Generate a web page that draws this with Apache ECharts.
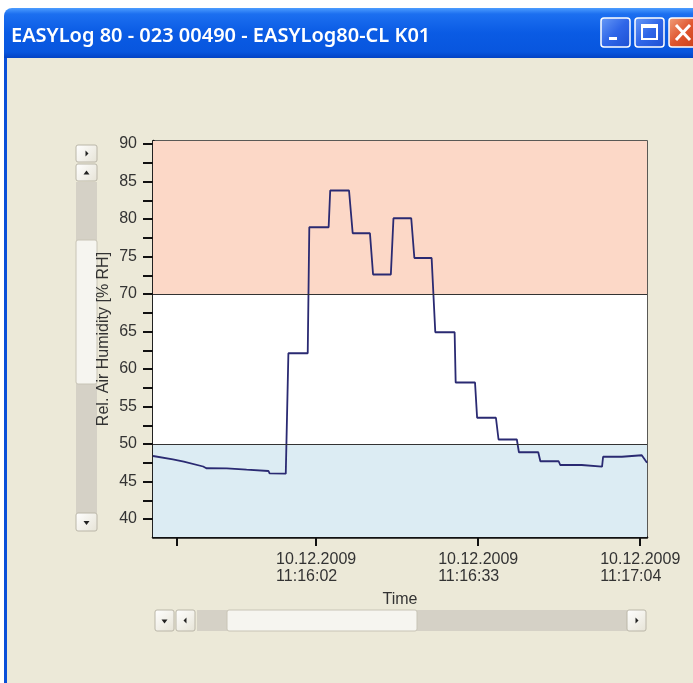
<!DOCTYPE html>
<html lang="en">
<head>
<meta charset="UTF-8">
<title>EASYLog 80 - 023 00490 - EASYLog80-CL K01</title>
<style>
    html, body { margin: 0; padding: 0; background: #ffffff; }
    #main { width: 693px; height: 683px; }
</style>
</head>
<body>
<script src="https://cdn.jsdelivr.net/npm/echarts@6/dist/echarts.min.js"></script>

<div id="main"></div>

<script type="text/javascript">
    // time in seconds after 10.12.2009 11:15:00
    var times = [30.8, 34.6, 36.7, 40.4, 41.0, 44.9, 45.2, 48.7, 49.0, 52.9, 53.1, 56.2,
        56.7, 60.4, 60.7, 64.4, 64.7, 68.3, 69.0, 72.3, 72.9, 76.3, 76.8, 80.2,
        80.8, 84.1, 84.8, 88.5, 88.7, 92.4, 92.8, 96.4, 96.9, 100.4, 100.8, 104.5,
        104.9, 108.4, 108.7, 112.8, 113.0, 116.7, 116.9, 120.5, 120.7, 124.3, 125.3];
    // Rel. Air Humidity [% RH]
    var rh = [48.4, 47.95, 47.65, 47.0, 46.77, 46.76, 46.57, 46.57, 46.4, 46.4, 46.09, 46.05,
        62.1, 62.1, 78.9, 78.9, 83.8, 83.8, 78.1, 78.1, 72.6, 72.6, 80.1, 80.1,
        74.8, 74.8, 64.9, 64.9, 58.2, 58.2, 53.5, 53.5, 50.6, 50.6, 48.9, 48.9,
        47.7, 47.7, 47.2, 47.2, 46.97, 46.97, 48.3, 48.3, 48.5, 48.5, 47.5];

    var yLabels = [40, 45, 50, 55, 60, 65, 70, 75, 80, 85, 90];
    var yTicks = [40, 42.5, 45, 47.5, 50, 52.5, 55, 57.5, 60, 62.5, 65, 67.5, 70, 72.5, 75, 77.5, 80, 82.5, 85, 87.5, 90];
    var xLabels = [62, 93, 124];
    var xTicks = [35.4, 62, 93, 124];
    var dayText = '10.12.2009';
    var limitHigh = 70;
    var limitLow = 50;

    var yMin = 37.6, yMax = 90.4;
    var xMin = 30.8, xMax = 125.3;

    function two(n) { return (n < 10 ? '0' : '') + n; }
    function clock(t) {
        var s = Math.round(t);
        return '11:' + two(15 + Math.floor(s / 60)) + ':' + two(s % 60);
    }

    var pts = [];
    for (var i = 0; i < times.length; i++) pts.push([times[i], rh[i]]);

    var font = '"Liberation Sans", Arial, sans-serif';

    // Windows XP window chrome and scroll bars
    function btn(x, y, w, h, arrow) {
        var cx = x + w / 2, cy = y + h / 2, tri;
        if (arrow === 'up') tri = [[cx - 3, cy + 2], [cx + 3, cy + 2], [cx, cy - 2]];
        if (arrow === 'down') tri = [[cx - 3, cy - 1], [cx + 3, cy - 1], [cx, cy + 3]];
        if (arrow === 'left') tri = [[cx + 1, cy - 3], [cx + 1, cy + 3], [cx - 2, cy]];
        if (arrow === 'right') tri = [[cx - 1, cy - 3], [cx - 1, cy + 3], [cx + 2, cy]];
        return [
            {type: 'rect', shape: {x: x, y: y, width: w, height: h, r: 2},
                style: {fill: new echarts.graphic.LinearGradient(0, 0, 1, 1, [
                    {offset: 0, color: '#ffffff'}, {offset: 1, color: '#e6e3d6'}]),
                    stroke: '#bab6a8', lineWidth: 1}},
            {type: 'polygon', shape: {points: tri}, style: {fill: '#222'}}
        ];
    }

    var chrome = [];
    chrome.push({type: 'rect', z: -10, shape: {x: 4, y: 54, width: 700, height: 640}, style: {fill: '#ece9d8'}});
    chrome.push({type: 'rect', z: -9, shape: {x: 4, y: 54, width: 3, height: 640}, style: {fill: '#0a4fd8'}});
    chrome.push({type: 'rect', z: -8, shape: {x: 4, y: 8, width: 700, height: 50, r: [8, 8, 0, 0]},
        style: {fill: new echarts.graphic.LinearGradient(0, 0, 0, 1, [
            {offset: 0, color: '#4c9cff'}, {offset: 0.12, color: '#1c6ff0'},
            {offset: 0.5, color: '#0a5be4'}, {offset: 0.88, color: '#0856de'},
            {offset: 1, color: '#0343c4'}])}});
    chrome.push({type: 'text', z: -7, style: {text: 'EASYLog 80 - 023 00490 - EASYLog80-CL K01',
        x: 11, y: 36, fill: '#ffffff', font: '600 20px "Noto Sans", sans-serif', verticalAlign: 'middle',
        textShadowColor: '#0a2a80', textShadowOffsetX: 1, textShadowOffsetY: 1, textShadowBlur: 0}});
    var blueBtn = new echarts.graphic.LinearGradient(0, 0, 1, 1, [
        {offset: 0, color: '#6a9cf7'}, {offset: 0.5, color: '#2f66e8'}, {offset: 1, color: '#1d4fd2'}]);
    chrome.push({type: 'rect', z: -7, shape: {x: 601, y: 18, width: 29, height: 29, r: 3}, style: {fill: blueBtn, stroke: '#ffffff', lineWidth: 1.5}});
    chrome.push({type: 'rect', z: -6, shape: {x: 609, y: 37, width: 8, height: 3}, style: {fill: '#ffffff'}});
    chrome.push({type: 'rect', z: -7, shape: {x: 635, y: 18, width: 29, height: 29, r: 3}, style: {fill: blueBtn, stroke: '#ffffff', lineWidth: 1.5}});
    chrome.push({type: 'rect', z: -6, shape: {x: 642, y: 25, width: 15, height: 14}, style: {fill: 'none', stroke: '#ffffff', lineWidth: 2}});
    chrome.push({type: 'rect', z: -6, shape: {x: 642, y: 25, width: 15, height: 3}, style: {fill: '#ffffff'}});
    chrome.push({type: 'rect', z: -7, shape: {x: 669, y: 18, width: 29, height: 29, r: 3},
        style: {fill: new echarts.graphic.LinearGradient(0, 0, 1, 1, [
            {offset: 0, color: '#f0a27e'}, {offset: 0.5, color: '#e0562e'}, {offset: 1, color: '#c83c18'}]),
            stroke: '#ffffff', lineWidth: 1.5}});
    chrome.push({type: 'polyline', z: -6, shape: {points: [[676, 25], [690, 40]]}, style: {stroke: '#ffffff', lineWidth: 3}});
    chrome.push({type: 'polyline', z: -6, shape: {points: [[690, 25], [676, 40]]}, style: {stroke: '#ffffff', lineWidth: 3}});

    // vertical scroll bar
    chrome.push({type: 'rect', z: -5, shape: {x: 76, y: 182, width: 21, height: 331}, style: {fill: '#d5d1c6'}});
    chrome.push({type: 'rect', z: -4, shape: {x: 76, y: 240, width: 21, height: 144, r: 2},
        style: {fill: '#f6f5f0', stroke: '#c8c4b6', lineWidth: 1}});
    chrome = chrome.concat(btn(76, 145, 21, 17, 'right'), btn(76, 164, 21, 17, 'up'), btn(76, 513, 21, 18, 'down'));

    // horizontal scroll bar
    chrome.push({type: 'rect', z: -5, shape: {x: 197, y: 610, width: 430, height: 21}, style: {fill: '#d5d1c6'}});
    chrome.push({type: 'rect', z: -4, shape: {x: 227, y: 610, width: 190, height: 21, r: 2},
        style: {fill: '#f6f5f0', stroke: '#c8c4b6', lineWidth: 1}});
    chrome = chrome.concat(btn(155, 610, 19, 21, 'down'), btn(176, 610, 19, 21, 'left'), btn(627, 610, 19, 21, 'right'));

    var myChart = echarts.init(document.getElementById('main'));

    var option = {
        animation: false,
        backgroundColor: '#ffffff',
        graphic: chrome,
        grid: {
            left: 153, right: 46, top: 141, bottom: 146,
            show: true, borderColor: '#2a2a2a', borderWidth: 1.5, backgroundColor: 'transparent'
        },
        xAxis: [{
            type: 'value',
            min: xMin,
            max: xMax,
            name: 'Time',
            nameLocation: 'middle',
            nameGap: 55,
            nameMoveOverlap: false,
            nameTextStyle: {fontFamily: font, fontSize: 16, color: '#333'},
            axisLine: {show: true, lineStyle: {color: '#111', width: 2.5}},
            axisTick: {show: true, customValues: xTicks, length: 9, lineStyle: {color: '#111', width: 2}},
            axisLabel: {
                customValues: xLabels,
                margin: 14,
                formatter: function (v) { return '{d|' + dayText + '}\n{d|' + clock(v) + '}'; },
                rich: {d: {width: 80, align: 'left', fontFamily: font, fontSize: 16, lineHeight: 17, color: '#333'}}
            },
            splitLine: {show: false}
        }, {
            type: 'value',
            min: xMin,
            max: xMax,
            position: 'bottom',
            axisLine: {show: false},
            axisLabel: {show: false},
            axisTick: {show: true, inside: true, customValues: xLabels, length: 8, lineStyle: {color: '#111', width: 2}},
            splitLine: {show: false}
        }],
        yAxis: {
            type: 'value',
            min: yMin,
            max: yMax,
            name: 'Rel. Air Humidity [% RH]',
            nameLocation: 'middle',
            nameGap: 41,
            nameMoveOverlap: false,
            nameTextStyle: {fontFamily: font, fontSize: 16, color: '#333'},
            axisLine: {show: true, lineStyle: {color: '#111', width: 2.5}},
            axisTick: {show: true, customValues: yTicks, length: 10, lineStyle: {color: '#111', width: 2}},
            axisLabel: {customValues: yLabels, margin: 16, fontFamily: font, fontSize: 16, color: '#333'},
            splitLine: {show: false}
        },
        series: [{
            name: 'Rel. Air Humidity',
            type: 'line',
            data: pts,
            symbol: 'none',
            lineStyle: {color: '#2a2a72', width: 1.8},
            markArea: {
                silent: true,
                data: [
                    [{yAxis: limitHigh, itemStyle: {color: '#fcd8c7'}}, {yAxis: yMax}],
                    [{yAxis: limitLow, itemStyle: {color: '#ffffff'}}, {yAxis: limitHigh}],
                    [{yAxis: yMin, itemStyle: {color: '#dcecf3'}}, {yAxis: limitLow}]
                ]
            },
            markLine: {
                silent: true,
                symbol: 'none',
                label: {show: false},
                lineStyle: {color: '#333', width: 1, type: 'solid'},
                data: [{yAxis: limitHigh}, {yAxis: limitLow}]
            }
        }]
    };

    myChart.setOption(option);
</script>
</body>
</html>
